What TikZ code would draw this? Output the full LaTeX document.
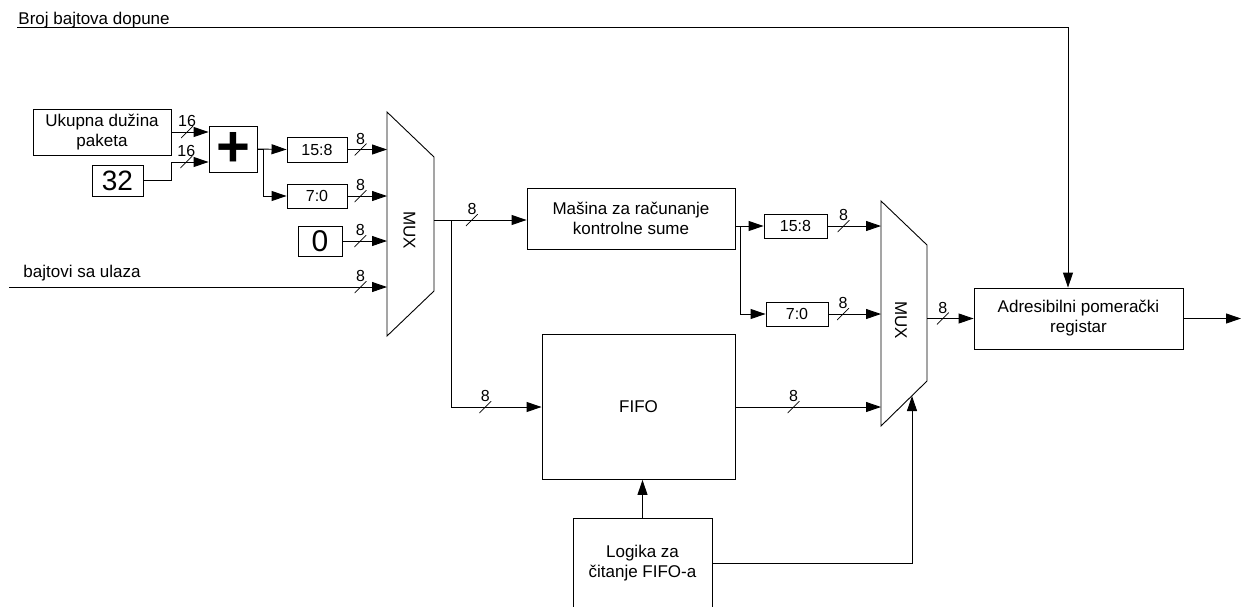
\documentclass[tikz,border=0pt]{standalone}
\usepackage{fontspec}
\setmainfont{Liberation Sans}
\usetikzlibrary{arrows.meta}

\begin{document}
\begin{tikzpicture}[x=1pt, y=-1pt, line width=0.9pt,
      font=\fontsize{17}{20}\selectfont,
      blk/.style={draw, align=center, inner sep=0pt},
      sml/.style={blk, font=\fontsize{16}{18}\selectfont},
      arr/.style={-{Triangle[length=15pt, width=10pt]}},
      bus/.style={inner sep=0pt, minimum width=12pt, minimum height=12pt,
                  path picture={\draw[-, line width=0.7pt]
                    (path picture bounding box.south west) --
                    (path picture bounding box.north east);},
                  label={[inner sep=0pt, label distance=-2pt,
                    font=\fontsize{16}{18}\selectfont]above:#1}},
      mux/.style={draw, line join=miter}]
    \useasboundingbox (0,0) rectangle (1242,606);
    \clip (0,0) rectangle (1242,606);
    \node[blk, minimum width=138, minimum height=46] (ukupna) at (102,132)
      {Ukupna dužina\\paketa};
    \node[blk, minimum width=51, minimum height=31,
      font=\fontsize{28}{30}\selectfont] (c32) at (117.5,180.5) {32};
    \node[blk, minimum width=48, minimum height=46,
      font=\fontsize{58}{58}\selectfont\bfseries] (plus) at (233,149) {+};
    \node[sml, minimum width=60, minimum height=25] (hi1) at (317,149.5) {15:8};
    \node[sml, minimum width=60, minimum height=24] (lo1) at (317,196) {7:0};
    \node[blk, minimum width=44, minimum height=30,
      font=\fontsize{30}{32}\selectfont] (zero) at (320,241) {0};
    \draw[mux] (387,112) -- (434,157) -- (434,291) -- (387,336) -- cycle;
    \node[rotate=-90] (mux1) at (409.5,230) {MUX};
    \coordinate (m1a) at (387,149.5);
    \coordinate (m1b) at (387,196);
    \coordinate (m1c) at (387,241);
    \coordinate (m1d) at (387,287);
    \coordinate (m1out) at (434,220);
    \node[blk, minimum width=208, minimum height=61] (masina) at (631,218.5)
      {Mašina za računanje\\kontrolne sume};
    \node[blk, minimum width=193, minimum height=145] (fifo) at (638.5,407) {FIFO};
    \node[blk, minimum width=139, minimum height=90] (logika) at (642.5,563)
      {Logika za\\čitanje FIFO-a};
    \node[sml, minimum width=63, minimum height=24] (hi2) at (795.5,226) {15:8};
    \node[sml, minimum width=62, minimum height=24] (lo2) at (797,314) {7:0};
    \draw[mux] (881,201) -- (927,245) -- (927,381) -- (881,426) -- cycle;
    \node[rotate=-90] (mux2) at (901,320) {MUX};
    \coordinate (m2a) at (881,226);
    \coordinate (m2b) at (881,314);
    \coordinate (m2c) at (881,407);
    \coordinate (m2out) at (927,318.5);
    \coordinate (m2sel) at (912,396);
    \node[blk, minimum width=209, minimum height=61] (adr) at (1078.5,318.5)
      {Adresibilni pomerački\\registar};
    \coordinate (out) at (1241,318.5);
    \coordinate (broj) at (17,27);
    \node[anchor=base west, inner sep=0pt] (brojlbl) at (18,24) {Broj bajtova dopune};
    \coordinate (bajt) at (9,287);
    \node[anchor=base west, inner sep=0pt] (bajtlbl) at (23,277) {bajtovi sa ulaza};
    \draw[arr] (broj) -| ([xshift=-10.5pt]adr.north);
    \draw[arr] (ukupna.east) -- node[bus=16, pos=0.42] {} (ukupna.east -| plus.west);
    \draw[arr] (c32.east) -- ++(28,0) |- node[bus=16, pos=0.7] {}
      ([yshift=-13pt]plus.west);
    \draw[arr] (plus.east) -- (hi1.west);
    \draw[arr] (plus.east) -- ++(6,0) |- (lo1.west);
    \draw[arr] (hi1.east) -- node[bus=8, pos=0.33] {} (m1a);
    \draw[arr] (lo1.east) -- node[bus=8, pos=0.33] {} (m1b);
    \draw[arr] (zero.east) -- node[bus=8, pos=0.4] {} (m1c);
    \draw[arr] (bajt) -- node[bus=8, pos=0.93] {} (m1d);
    \draw[arr] (m1out) -- node[bus=8, pos=0.41] {} (masina.west |- m1out);
    \draw[arr] (m1out) -- ++(17,0) |- node[bus=8, pos=0.69] {} (fifo.west);
    \draw[arr] (masina.east |- hi2.west) -- (hi2.west);
    \draw[arr] (masina.east |- hi2.west) -- ++(5,0) |- (lo2.west);
    \draw[arr] (hi2.east) -- node[bus=8, pos=0.3] {} (m2a);
    \draw[arr] (lo2.east) -- node[bus=8, pos=0.28] {} (m2b);
    \draw[arr] (fifo.east) -- node[bus=8, pos=0.4] {} (m2c);
    \draw[arr] (logika.north) -- (fifo.south -| logika.north);
    \draw[arr] (logika.east) -| (m2sel);
    \draw[arr] (m2out) -- node[bus=8, pos=0.34] {} (adr.west |- m2out);
    \draw[arr] (adr.east) -- (out);
  \end{tikzpicture}
\end{document}
